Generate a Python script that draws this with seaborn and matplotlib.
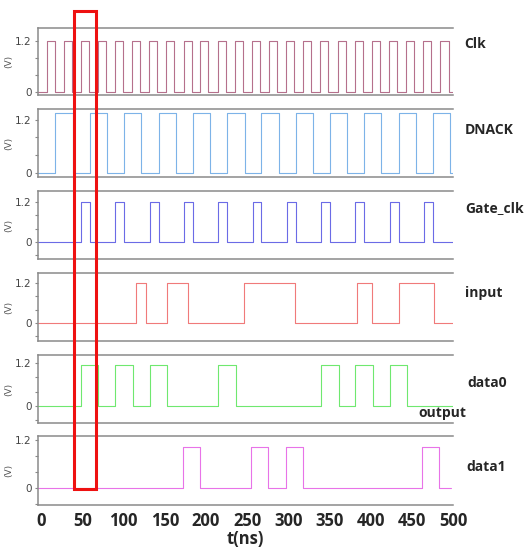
import matplotlib
matplotlib.use("Agg")
import matplotlib.pyplot as plt
from matplotlib.patches import Rectangle
from matplotlib.ticker import MultipleLocator
import pandas as pd
import seaborn as sns

# edge times (ns)
T_START, T_END = -4, 497

clk_rise = [6.9, 27.0, 48.3, 68.5, 89.4, 109.9, 130.4, 150.9, 171.9, 192.0, 212.9, 233.5,
            254.4, 275.0, 295.5, 316.0, 337.0, 357.9, 378.4, 398.9, 419.4, 440.4, 460.9, 481.9]
clk_fall = [16.6, 36.7, 58.0, 78.2, 99.1, 119.6, 140.1, 160.6, 181.6, 201.7, 222.6, 243.2,
            264.1, 284.7, 305.2, 325.7, 346.7, 367.6, 388.1, 408.6, 429.1, 450.1, 470.6, 491.6]

dnack_rise = [16.9, 58.3, 100.2, 141.7, 183.2, 224.3, 265.7, 307.6, 349.0, 390.1, 431.5, 472.6]
dnack_fall = [38.3, 79.3, 120.8, 162.7, 204.1, 245.5, 286.6, 328.1, 369.2, 410.6, 452.0, 493.1]

gate_rise = [48.3, 89.4, 130.8, 172.3, 213.8, 255.2, 296.7, 338.2, 379.2, 420.7, 462.2]
gate_fall = [58.3, 100.2, 141.7, 183.2, 224.3, 265.7, 307.6, 349.0, 390.1, 431.5, 472.6]

input_rise = [114.4, 151.8, 245.2, 381.3, 432.0]
input_fall = [126.4, 176.7, 306.8, 399.8, 474.3]

data0_rise = [48.3, 89.4, 130.8, 213.8, 337.8, 379.2, 420.7]
data0_fall = [68.5, 110.7, 151.8, 235.1, 359.1, 400.6, 441.7]

data1_rise = [172.3, 255.2, 296.7, 462.2]
data1_fall = [192.9, 275.7, 317.3, 483.1]

names = ["Clk", "DNACK", "Gate_clk", "input", "data0", "data1"]
highs = [1.2, 1.35, 1.2, 1.2, 1.14, 1.02]
colors = ["#b5708c", "#7db3e8", "#6b6be6", "#f07a7a", "#6fe86f", "#e873e8"]
edges = [(clk_rise, clk_fall), (dnack_rise, dnack_fall), (gate_rise, gate_fall),
         (input_rise, input_fall), (data0_rise, data0_fall), (data1_rise, data1_fall)]
ylims = [(-0.07, 1.51), (-0.09, 1.44), (-0.51, 1.53), (-0.54, 1.5), (-0.47, 1.42), (-0.425, 1.3)]

# panel layout in pixels (top, bottom)
W, H = 531, 551
panels = [(28, 95), (109, 177), (191, 259), (273, 341), (355, 423), (436, 505)]
label_pos = [(464, 44), (465, 130), (465, 208), (465, 293), (467, 383), (466, 467)]


def steps(rise, fall, high):
    t = [T_START]
    v = [0.0]
    for r, f in zip(rise, fall):
        t += [r, f]
        v += [high, 0.0]
    t.append(T_END)
    v.append(0.0)
    return pd.DataFrame({"t": t, "v": v})


sns.set_style("white")
plt.rcParams["font.family"] = ["DejaVu Sans"]

fig = plt.figure(figsize=(W / 100, H / 100), dpi=100)
axes = []
for i, name in enumerate(names):
    top, bot = panels[i]
    ax = fig.add_axes([38 / W, 1 - bot / H, 415 / W, (bot - top) / H])
    df = steps(edges[i][0], edges[i][1], highs[i])
    sns.lineplot(data=df, x="t", y="v", ax=ax, color=colors[i], lw=0.8,
                 drawstyle="steps-post", estimator=None, sort=False)
    ax.set_xlim(T_START, T_END)
    ax.set_ylim(*ylims[i])
    ax.set_yticks([0, 1.2])
    ax.set_yticklabels(["0", "1.2"])
    ax.yaxis.set_minor_locator(MultipleLocator(0.4))
    ax.tick_params(axis="y", which="both", direction="out", length=2.5, width=0.8,
                   colors="#888888", labelcolor="#444444", labelsize=7.5, pad=2, left=True)
    ax.set_ylabel("(V)", fontsize=6.5, color="#555555", labelpad=1)
    for s in ["top", "bottom", "left"]:
        ax.spines[s].set_color("#8a8a8a")
        ax.spines[s].set_linewidth(1.1)
    ax.spines["right"].set_visible(False)
    if i < len(names) - 1:
        ax.tick_params(axis="x", bottom=False, labelbottom=False)
        ax.set_xlabel("")
    else:
        ax.set_xticks(range(0, 501, 50))
        ax.tick_params(axis="x", length=0, pad=5)
        for lbl in ax.get_xticklabels():
            lbl.set_fontfamily("Open Sans")
            lbl.set_fontweight("bold")
            lbl.set_fontsize(12)
        ax.set_xlabel("t(ns)", fontsize=12, fontweight="bold", family="Open Sans", labelpad=0)
    lx, ly = label_pos[i]
    fig.text(lx / W, 1 - ly / H, name, ha="left", va="center", fontsize=10,
             fontweight="bold", family="Open Sans")
    axes.append(ax)

fig.text(418 / W, 1 - 413 / H, "output", ha="left", va="center", fontsize=10,
         fontweight="bold", family="Open Sans")

# highlight box
fig.patches.append(Rectangle((74 / W, 1 - 489 / H), 22 / W, 478 / H, fill=False,
                             edgecolor="#ee1111", linewidth=2.2, transform=fig.transFigure,
                             figure=fig))

plt.savefig("out.png", dpi=100)
plt.close()
